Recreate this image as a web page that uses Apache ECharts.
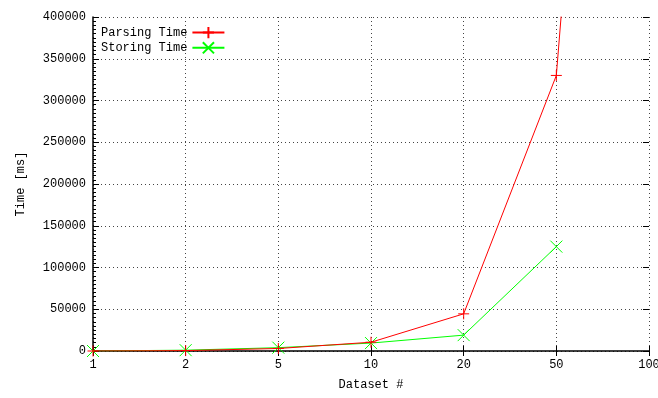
<!DOCTYPE html>
<html>
<head>
<meta charset="utf-8">
<script src="https://cdn.jsdelivr.net/npm/echarts@6/dist/echarts.min.js"></script>
<style>html,body{margin:0;padding:0;background:#fff}#c{width:658px;height:398px}</style>
</head>
<body>
<div id="c"></div>
<script>
const categories = ['1', '2', '5', '10', '20', '50', '100'];
const parsingTime = [0, 500, 3000, 10500, 44500, 330000, 1700000];
const storingTime = [0, 1000, 4000, 9500, 19000, 125000, null];
const yTicks = [0, 50000, 100000, 150000, 200000, 250000, 300000, 350000, 400000];

const FONT = 'Liberation Mono';
const plusPath = 'path://M0,5L10,5M5,0L5,10';
const crossPath = 'path://M0,0L10,10M10,0L0,10';
const gridLine = { show: true, lineStyle: { color: '#444', type: [1, 3], width: 1 } };

const chart = echarts.init(document.getElementById('c'), null, { renderer: 'canvas' });
chart.setOption({
  animation: false,
  backgroundColor: '#fff',
  textStyle: { fontFamily: FONT },
  grid: { left: 93, right: 9, top: 17, bottom: 47, containLabel: false, outerBoundsMode: 'none' },
  legend: {
    orient: 'vertical',
    left: 96, top: 21,
    align: 'right',
    itemWidth: 32, itemHeight: 14, itemGap: 2,
    textStyle: { fontFamily: FONT, fontSize: 12, color: '#000' },
    data: ['Parsing Time', 'Storing Time']
  },
  xAxis: [{
    type: 'category', data: categories, boundaryGap: false,
    name: 'Dataset #', nameLocation: 'middle', nameGap: 28,
    nameTextStyle: { fontFamily: FONT, fontSize: 12, color: '#000' },
    axisLine: { show: true, lineStyle: { color: '#000', width: 1.5 } },
    axisTick: { show: true, inside: true, length: 5, lineStyle: { color: '#000' } },
    axisLabel: { fontFamily: FONT, fontSize: 12, color: '#000', margin: 8 },
    splitLine: gridLine
  }, {
    type: 'category', data: categories, boundaryGap: false, position: 'top',
    axisLine: { show: false },
    axisTick: { show: true, inside: true, length: 5, lineStyle: { color: '#000' } },
    axisLabel: { show: false }, splitLine: { show: false }
  }],
  yAxis: [{
    type: 'value', min: 0, max: 400000, interval: 50000,
    name: 'Time [ms]', nameLocation: 'middle', nameGap: 66, nameRotate: 90,
    nameTextStyle: { fontFamily: FONT, fontSize: 12, color: '#000' },
    axisLine: { show: true, lineStyle: { color: '#000', width: 1.5 } },
    axisTick: { show: true, inside: true, length: 6, lineStyle: { color: '#000' } },
    minorTick: { show: true, splitNumber: 10, length: 3, lineStyle: { color: '#000' } },
    axisLabel: { fontFamily: FONT, fontSize: 12, color: '#000', margin: 7,
      formatter: v => yTicks.includes(v) ? String(v) : '' },
    splitLine: gridLine
  }, {
    type: 'value', min: 0, max: 400000, interval: 50000, position: 'right',
    axisLine: { show: false },
    axisTick: { show: true, inside: true, length: 6, lineStyle: { color: '#000' } },
    axisLabel: { show: false }, splitLine: gridLine
  }],
  series: [{
    name: 'Parsing Time', type: 'line', data: parsingTime,
    symbol: plusPath, symbolSize: 11, showAllSymbol: true,
    lineStyle: { color: '#ff0000', width: 1 },
    itemStyle: { color: '#ff0000', borderColor: '#ff0000', borderWidth: 1 },
    clip: true, z: 3
  }, {
    name: 'Storing Time', type: 'line', data: storingTime,
    symbol: crossPath, symbolSize: 12, showAllSymbol: true,
    lineStyle: { color: '#00ff00', width: 1 },
    itemStyle: { color: '#00ff00', borderColor: '#00ff00', borderWidth: 1 },
    clip: true, z: 2
  }]
});
</script>
</body>
</html>
